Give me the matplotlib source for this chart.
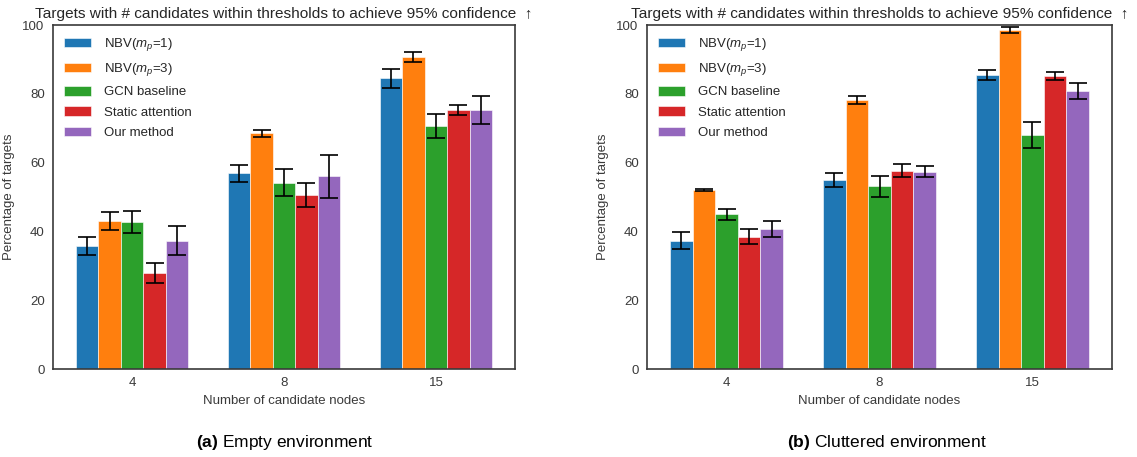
import matplotlib
matplotlib.use("Agg")
import matplotlib.pyplot as plt
import numpy as np

plt.rcParams['font.family'] = ['Liberation Sans', 'DejaVu Sans']
plt.rcParams['mathtext.fontset'] = 'custom'
plt.rcParams['mathtext.it'] = 'Liberation Sans:italic'
plt.rcParams['mathtext.rm'] = 'Liberation Sans'
plt.rcParams['mathtext.bf'] = 'Liberation Sans:bold'

categories = ['4', '8', '15']
methods = ['NBV($m_p$=1)', 'NBV($m_p$=3)', 'GCN baseline', 'Static attention', 'Our method']
colors = ['#1f77b4', '#ff7f0e', '#2ca02c', '#d62728', '#9467bd']

# Empty environment: rows = methods, cols = categories
empty_mean = [
    [35.8, 56.9, 84.5],
    [43.0, 68.5, 90.7],
    [42.7, 54.2, 70.6],
    [28.0, 50.6, 75.3],
    [37.3, 56.0, 75.3],
]
empty_err = [
    [2.6, 2.4, 2.8],
    [2.7, 1.0, 1.4],
    [3.1, 3.8, 3.4],
    [2.9, 3.4, 1.4],
    [4.2, 6.2, 4.2],
]
# Cluttered environment
clut_mean = [
    [37.3, 55.0, 85.5],
    [51.9, 78.1, 98.5],
    [45.0, 53.1, 68.0],
    [38.4, 57.7, 85.2],
    [40.7, 57.4, 80.8],
]
clut_err = [
    [2.4, 2.1, 1.5],
    [0.3, 1.2, 0.8],
    [1.6, 3.0, 3.7],
    [2.2, 1.9, 1.2],
    [2.2, 1.7, 2.2],
]

title = 'Targets with # candidates within thresholds to achieve 95% confidence  \u2191'
captions = [r'$\mathbf{(a)}$ Empty environment', r'$\mathbf{(b)}$ Cluttered environment']

fig = plt.figure(figsize=(11.37, 4.57), dpi=100)
ax1 = fig.add_axes([53/1137, 1-369/457, 462/1137, 344/457])
ax2 = fig.add_axes([647/1137, 1-369/457, 465/1137, 344/457])

text_col = '#262626'
width = 0.148
x = np.arange(len(categories))

for ax, means, errs in [(ax1, empty_mean, empty_err), (ax2, clut_mean, clut_err)]:
    for i, (m, e) in enumerate(zip(means, errs)):
        ax.bar(x + (i - 2) * width, m, width, yerr=e, color=colors[i], label=methods[i],
               edgecolor='white', linewidth=0.4,
               error_kw=dict(ecolor='black', capsize=6.5, elinewidth=1.2, capthick=1.2))
    ax.set_xlim(-0.52, 2.52)
    ax.set_ylim(0, 100)
    ax.set_yticks([0, 20, 40, 60, 80, 100])
    ax.set_xticks(x)
    ax.set_xticklabels(categories)
    ax.tick_params(length=0, labelsize=9.5, colors='#3a3a3a', pad=6)
    for s in ax.spines.values():
        s.set_color('#3a3a3a')
        s.set_linewidth(1.2)
    ax.set_xlabel('Number of candidate nodes', fontsize=9.5, color='#3a3a3a', labelpad=4)
    ax.set_ylabel('Percentage of targets', fontsize=9.5, color='#3a3a3a', labelpad=5)
    ax.set_title(title, fontsize=11.05, color=text_col, pad=5)
    leg = ax.legend(loc='upper left', frameon=False, fontsize=9.5, handlelength=2.0,
                    handleheight=0.75, labelspacing=0.6, borderaxespad=0.45,
                    handletextpad=1.0)
    for t in leg.get_texts():
        t.set_color(text_col)

for cap, cx in zip(captions, [285/1137, 887/1137]):
    fig.text(cx, 1-442/457, cap, fontsize=12.5, ha='center', va='center', color='black')

fig.savefig('out.png', dpi=100)
